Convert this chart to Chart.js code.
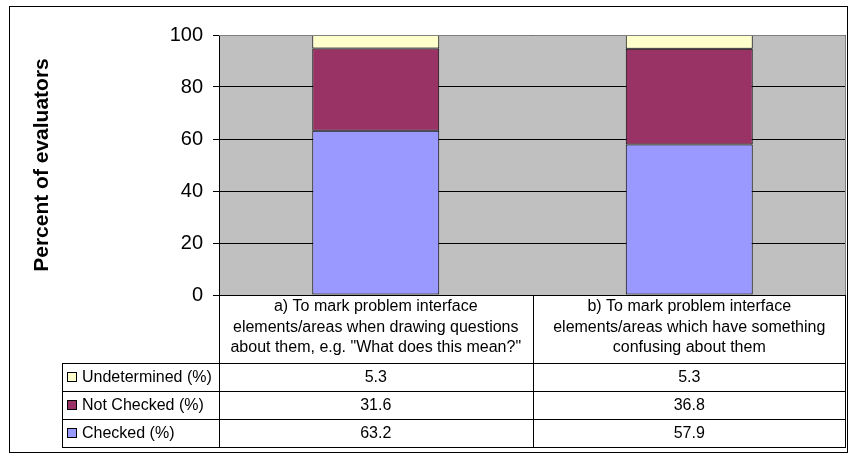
<!DOCTYPE html>
<html>
<head>
<meta charset="utf-8">
<script src="https://cdn.jsdelivr.net/npm/chart.js@4/dist/chart.umd.min.js"></script>
<style>
    html, body { margin: 0; padding: 0; background: #fff; }
    #wrap { width: 849px; height: 457px; }
</style>
</head>
<body>
<div id="wrap"><canvas id="evalChart" width="849" height="457"></canvas></div>
<script>
const categories = [
    ['a) To mark problem interface', 'elements/areas when drawing questions', 'about them, e.g. "What does this mean?"'],
    ['b) To mark problem interface', 'elements/areas which have something', 'confusing about them']
];
const checked = [63.2, 57.9];
const notChecked = [31.6, 36.8];
const undetermined = [5.3, 5.3];
const yTicks = [0, 20, 40, 60, 80, 100];

const FONT = 'Arial, "Liberation Sans", sans-serif';

// series in table order (top row first)
const tableRows = [
    { label: 'Undetermined (%)', values: undetermined, color: '#FFFFCC' },
    { label: 'Not Checked (%)', values: notChecked, color: '#993366' },
    { label: 'Checked (%)', values: checked, color: '#9999FF' }
];

const plotBackground = {
    id: 'plotBackground',
    beforeDraw(chart) {
        const { ctx, chartArea: a } = chart;
        ctx.save();
        ctx.fillStyle = '#fff';
        ctx.fillRect(0, 0, chart.width, chart.height);
        ctx.fillStyle = '#C0C0C0';
        ctx.fillRect(a.left, a.top, a.right - a.left, a.bottom - a.top);
        ctx.restore();
    },
    afterDraw(chart) {
        const { ctx, chartArea: a } = chart;
        const x = chart.scales.x;
        ctx.save();
        // plot border (top/right)
        ctx.strokeStyle = '#808080';
        ctx.lineWidth = 1;
        ctx.beginPath();
        ctx.moveTo(a.left, a.top + 0.5);
        ctx.lineTo(a.right - 0.5, a.top + 0.5);
        ctx.lineTo(a.right - 0.5, a.bottom);
        ctx.stroke();

        // data table
        const headerTop = a.bottom;
        const headerBottom = headerTop + 68;
        const rowH = 28;
        const legendLeft = 62;
        const tableBottom = headerBottom + rowH * tableRows.length;
        const colEdges = [a.left];
        for (let i = 0; i < categories.length - 1; i++) {
            colEdges.push((x.getPixelForValue(i) + x.getPixelForValue(i + 1)) / 2);
        }
        colEdges.push(a.right);

        ctx.strokeStyle = '#000';
        ctx.beginPath();
        colEdges.forEach((cx, i) => {
            const px = Math.round(cx) + 0.5 - (i === colEdges.length - 1 ? 1 : 0);
            ctx.moveTo(px, headerTop);
            ctx.lineTo(px, tableBottom);
        });
        ctx.moveTo(legendLeft + 0.5, headerBottom);
        ctx.lineTo(legendLeft + 0.5, tableBottom);
        for (let r = 0; r <= tableRows.length; r++) {
            const py = Math.round(headerBottom + r * rowH) + 0.5;
            ctx.moveTo(legendLeft, py);
            ctx.lineTo(a.right, py);
        }
        ctx.stroke();

        // header text
        ctx.fillStyle = '#000';
        ctx.textAlign = 'center';
        ctx.textBaseline = 'middle';
        ctx.font = '16px ' + FONT;
        categories.forEach((lines, i) => {
            const cx = x.getPixelForValue(i);
            lines.forEach((ln, j) => ctx.fillText(ln, cx, headerTop + 12 + j * 20.5));
        });

        // rows
        tableRows.forEach((row, r) => {
            const cy = headerBottom + r * rowH + rowH / 2 + 1;
            ctx.fillStyle = row.color;
            ctx.fillRect(67.5, cy - 5.5, 9, 9);
            ctx.strokeStyle = '#000';
            ctx.strokeRect(67.5, cy - 5.5, 9, 9);
            ctx.fillStyle = '#000';
            ctx.textAlign = 'left';
            ctx.font = '16px ' + FONT;
            ctx.fillText(row.label, 82, cy);
            ctx.textAlign = 'center';
            row.values.forEach((v, i) => ctx.fillText(v.toFixed(1), x.getPixelForValue(i), cy));
        });

        // outer frame
        ctx.strokeStyle = '#000';
        ctx.strokeRect(9.5, 6.5, 838, 446);
        ctx.restore();
    }
};

new Chart(document.getElementById('evalChart'), {
    type: 'bar',
    data: {
        labels: categories,
        datasets: [{
            label: 'Checked (%)',
            data: checked,
            backgroundColor: '#9999FF'
        }, {
            label: 'Not Checked (%)',
            data: notChecked,
            backgroundColor: '#993366'
        }, {
            label: 'Undetermined (%)',
            data: undetermined,
            backgroundColor: '#FFFFCC'
        }]
    },
    options: {
        responsive: false,
        animation: false,
        devicePixelRatio: 1,
        layout: { padding: { left: 0, top: 35, right: 3, bottom: 162 } },
        datasets: {
            bar: {
                borderColor: '#000',
                borderWidth: 1,
                borderSkipped: false,
                categoryPercentage: 0.405,
                barPercentage: 1
            }
        },
        plugins: {
            legend: { display: false },
            tooltip: { enabled: false }
        },
        scales: {
            x: {
                stacked: true,
                display: false
            },
            y: {
                stacked: true,
                min: 0,
                max: 100,
                afterFit(scale) { scale.width = 219; },
                afterBuildTicks(scale) { scale.ticks = yTicks.map(v => ({ value: v })); },
                ticks: {
                    color: '#000',
                    padding: 10,
                    font: { family: FONT, size: 20 }
                },
                grid: {
                    color: '#000',
                    lineWidth: 1,
                    tickLength: 6
                },
                border: { color: '#000', width: 1 },
                title: {
                    display: true,
                    text: 'Percent of evaluators',
                    color: '#000',
                    padding: { top: 30 },
                    font: { family: FONT, size: 21, weight: 'bold' }
                }
            }
        }
    },
    plugins: [plotBackground]
});
</script>
</body>
</html>
